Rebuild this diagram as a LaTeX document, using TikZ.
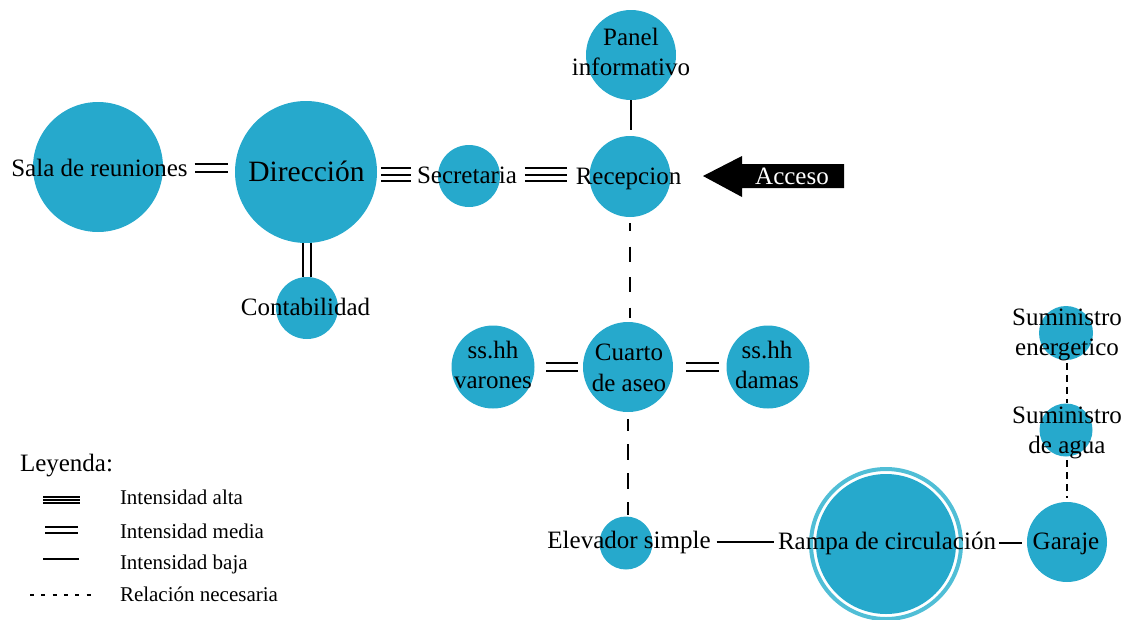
\documentclass[tikz,border=0pt]{standalone}
\usepackage{fontspec}
\setmainfont{Liberation Serif}
\definecolor{cfill}{RGB}{38,169,204}
\definecolor{cring}{RGB}{80,190,214}
\begin{document}
\begin{tikzpicture}[x=1pt,y=-1pt,
  bub/.style={circle,fill=cfill,inner sep=0pt,outer sep=0pt,minimum size=#1},
  lbl/.style={inner sep=0pt,outer sep=0pt,font=\fontsize{25}{30}\selectfont,align=center},
  leg/.style={inner sep=0pt,outer sep=0pt,font=\fontsize{21}{25}\selectfont,anchor=base west},
  lone/.style={line width=2.2pt},
  ltwo/.style={line width=2.2pt,double=white,double distance=5.6pt},
  ltri/.style={lone,preaction={draw,lone,transform canvas={yshift=6.5pt}},postaction={draw,lone,transform canvas={yshift=-6.5pt}}},
  dsha/.style={line width=2pt,dash pattern=on 15pt off 15.5pt,dash phase=7pt},
  dshb/.style={line width=2pt,dash pattern=on 16pt off 13pt,dash phase=4pt},
  dshc/.style={line width=2pt,dash pattern=on 7pt off 5pt},
  legone/.style={line width=1.5pt},
]
\useasboundingbox (0,0) rectangle (1132,619);

% bubbles
\node[bub=130] (csal) at (98,167) {};
\node[bub=142] (cdir) at (306,172) {};
\node[bub=62] (csec) at (469,176) {};
\node[bub=81] (crec) at (630,176.5) {};
\node[bub=90] (cpan) at (631,55) {};
\node[bub=62] (ccon) at (307,308) {};
\node[bub=90] (ccua) at (628,367) {};
\node[bub=83] (cvar) at (493,367) {};
\node[bub=83] (cdam) at (768,367) {};
\node[bub=53] (cele) at (626,543) {};
\node[circle,draw=cring,line width=4pt,inner sep=0pt,minimum size=150] (rram) at (886,544) {};
\node[bub=140] (cram) at (886,544) {};
\node[bub=80] (cgar) at (1067,542) {};
\node[bub=53] (cagu) at (1066,430) {};
\node[bub=54] (cene) at (1066,333) {};

% labels
\node[lbl,anchor=base] (tsal) at (99.5,176.7) {Sala de reuniones};
\node[lbl,anchor=base,font=\fontsize{29.5}{35}\selectfont] (tdir) at (306.5,181) {Dirección};
\node[lbl,anchor=base] (tsec) at (467,183) {Secretaria};
\node[lbl,anchor=base] (trec) at (628.5,184) {Recepcion};
\node[lbl] (tpan) at (631,51.5) {Panel\\informativo};
\node[lbl,anchor=base] (tcon) at (305.5,315) {Contabilidad};
\node[lbl,font=\fontsize{25}{31}\selectfont] (tcua) at (629,368) {Cuarto\\de aseo};
\node[lbl] (tvar) at (493,364.5) {ss.hh\\varones};
\node[lbl] (tdam) at (767,364.5) {ss.hh\\damas};
\node[lbl,anchor=base] (tele) at (629,548) {Elevador simple};
\node[lbl,anchor=base] (tram) at (887,549) {Rampa de circulación};
\node[lbl,anchor=base] (tgar) at (1066,549) {Garaje};
\node[lbl] (tagu) at (1067,432.5) {Suministro\\de agua};
\node[lbl] (tene) at (1067,335) {Suministro\\energetico};

% access arrow
\fill[black] (703,176) -- (742,156) -- (742,164) -- (844,164) -- (844,188) -- (742,188) -- (742,197) -- cycle;
\node[lbl,anchor=base,text=white] (tacc) at (792,184.5) {Acceso};

% connectors
\draw[ltwo] ([xshift=7pt]tsal.east) -- ([xshift=-7pt]tsal.east -| cdir.west);
\draw[ltri] ([xshift=4pt]cdir.east |- tsec.west) -- ([xshift=-6pt]tsec.west);
\draw[ltri] ([xshift=8pt]tsec.east) -- ([xshift=-9pt]tsec.east -| trec.west);
\draw[ltwo] ([xshift=1pt]cdir.south) -- ([xshift=1pt]cdir.south |- ccon.north);
\draw[lone] (cpan.south) -- ([yshift=6pt]cpan.south |- crec.north);
\draw[dsha] ([yshift=-6pt]crec.south) -- ([yshift=4pt]crec.south |- ccua.north);
\draw[ltwo] ([xshift=11pt]cvar.east) -- ([xshift=-5pt]ccua.west);
\draw[ltwo] ([xshift=13pt]ccua.east) -- ([xshift=-8pt]cdam.west);
\draw[dshb] ([yshift=-7pt]ccua.south) -- ([yshift=2pt]ccua.south |- cele.north);
\draw[lone] ([xshift=6pt]tele.east) -- ([xshift=-4pt]tele.east -| tram.west);
\draw[lone] ([xshift=3pt]tram.east) -- ([xshift=-11pt]tram.east -| tgar.west);
\draw[dshc] ([yshift=-2pt]tagu.south) -- ([yshift=4pt]tagu.south |- cgar.north);
\draw[dshc] ([yshift=-2pt]tene.south) -- ([yshift=4pt]tene.south |- tagu.north);

% legend
\node[leg,font=\fontsize{25}{30}\selectfont] (tley) at (20,471) {Leyenda:};
\node[leg] (tla) at (120,504) {Intensidad alta};
\node[leg] (tlm) at (120,538) {Intensidad media};
\node[leg] (tlb) at (120,569.5) {Intensidad baja};
\node[leg] (tlr) at (120,601.5) {Relación necesaria};
\coordinate (la1) at (43,500); \coordinate (la2) at (80,500);
\coordinate (lm1) at (45,530); \coordinate (lm2) at (78,530);
\coordinate (lb1) at (43,559); \coordinate (lb2) at (79,559);
\coordinate (lr1) at (30,595); \coordinate (lr2) at (93,595);
\draw[legone,preaction={draw,legone,transform canvas={yshift=3.2pt}},postaction={draw,legone,transform canvas={yshift=-3.2pt}}] (la1) -- (la2);
\draw[line width=1.8pt,double=white,double distance=3.6pt] (lm1) -- (lm2);
\draw[line width=2pt] (lb1) -- (lb2);
\draw[line width=1.5pt,dash pattern=on 4pt off 7.3pt] (lr1) -- (lr2);
\end{tikzpicture}
\end{document}
